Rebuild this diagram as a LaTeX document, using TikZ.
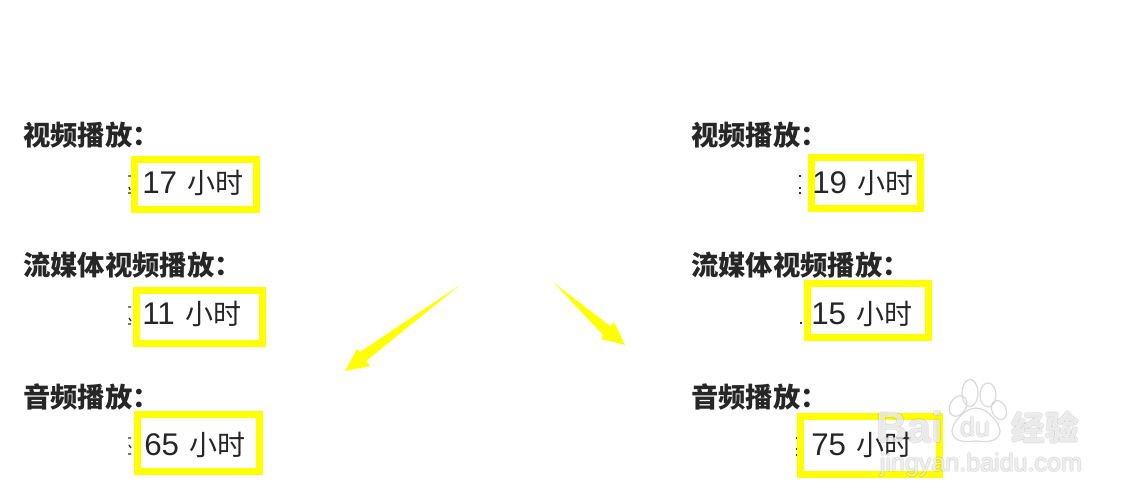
\documentclass[tikz,border=0pt]{standalone}
\usepackage{fontspec}
\setmainfont{Liberation Sans}
\newfontfamily\cjk{Noto Sans CJK SC}
\definecolor{markyellow}{RGB}{255,255,0}
\newcommand{\hourword}{\hspace{1.5pt}{\cjk\fontsize{21}{21}\selectfont 小时}}
% watermark word: grey rim under a white face
\newcommand{\stampword}[4]{
    \foreach \dx/\dy in {-1/0, 1/0, 0/-1, 0/1}
        \node[stamprim, font=#4] (#1rim) at ([shift={(\dx, \dy)}] #2) {#3};
    \node[stampface, font=#4] (#1) at (#2) {#3};
}
\tikzset{
    x=0.75pt, y=-0.75pt,
    headlabel/.style={anchor=west, inner sep=0pt, font=\cjk\fontsize{20.5}{20.5}\selectfont\bfseries, text=black!85},
    timelabel/.style={anchor=west, inner sep=0pt, font=\fontsize{23.5}{23.5}\selectfont, text=black!85},
    markbox/.style={draw=markyellow, line width=5pt},
    markarrow/.style={fill=markyellow},
    cutglyph/.style={draw=black!80, line width=1pt},
    stamprim/.style={inner sep=0pt, text=black, opacity=0.09},
    stampface/.style={inner sep=0pt, text=white, opacity=0.75},
    stamppaw/.style={draw=black!15, line width=0.9pt},
}
\begin{document}
\begin{tikzpicture}
    \useasboundingbox (0, 0) rectangle (1144, 502);
    % left column
    \node[headlabel] (headA) at (23, 135) {视频播放：};
    \node[headlabel] (headB) at (23, 265) {流媒体视频播放：};
    \node[headlabel] (headC) at (23, 397) {音频播放：};
    \draw[cutglyph]   (128, 176) -- (131, 176) (129, 187) -- (130, 190) (128, 193) -- (131, 193);
    \draw[cutglyph]   (128, 307) -- (131, 307) (129, 318) -- (131, 321) (128, 324) -- (131, 324);
    \draw[cutglyph]   (128, 438) -- (131, 438) (129, 445) -- (131, 448) (128, 454) -- (131, 454);
    \draw[markbox]    (134.5, 159.5) rectangle (256.5, 209.5);
    \draw[markbox]    (136.5, 290.5) rectangle (262.5, 343.5);
    \draw[markbox]    (137.5, 414.5) rectangle (259.5, 471.5);
    \node[timelabel] (timeA) at (142, 183) {17 \hourword};
    \node[timelabel] (timeB) at (142, 314) {11 \hourword};
    \node[timelabel] (timeC) at (144, 445) {65 \hourword};
    % right column
    \node[headlabel] (headD) at (691, 135) {视频播放：};
    \node[headlabel] (headE) at (691, 265) {流媒体视频播放：};
    \node[headlabel] (headF) at (691, 397) {音频播放：};
    \draw[cutglyph]   (799, 176) -- (801, 176) (799, 188) -- (801, 188) (799, 193) -- (801, 193);
    \draw[cutglyph]   (800, 323) -- (802, 323);
    \draw[cutglyph]   (796, 438) -- (798, 438) (796, 449) -- (798, 449) (796, 455) -- (798, 455);
    \draw[markbox]    (811.5, 157.5) rectangle (920.5, 208.5);
    \draw[markbox]    (807.5, 283.5) rectangle (928.5, 337.5);
    \draw[markbox]    (800.5, 416.5) rectangle (939.5, 474.5);
    \node[timelabel] (timeD) at (812, 183) {19 \hourword};
    \node[timelabel] (timeE) at (811, 314) {15 \hourword};
    \node[timelabel] (timeF) at (811, 445) {75 \hourword};
    % arrows
    \fill[markarrow] (460, 285) -- (360, 352) -- (357, 349) -- (345, 371) -- (370, 366) -- (366, 361) -- cycle;
    \fill[markarrow] (554, 283) -- (610, 326) -- (614, 322) -- (625, 345) -- (601, 339) -- (603, 335) -- cycle;
    % watermark
    \stampword{stampBai}{910, 427}{Bai}{\fontsize{32}{32}\selectfont\bfseries}
    \stampword{stampDu}{975, 427}{du}{\fontsize{20}{20}\selectfont}
    \stampword{stampJing}{1045, 427}{经验}{\cjk\fontsize{25}{25}\selectfont\bfseries}
    \stampword{stampSite}{981, 465}{jingyan.baidu.com}{\fontsize{18.8}{18.8}\selectfont}
    \draw[stamppaw] (970, 393) ellipse (8 and 13.5);
    \draw[stamppaw] (988, 395) ellipse (8 and 12);
    \draw[stamppaw, rotate around={-30:(958, 406)}] (958, 406) ellipse (8 and 11);
    \draw[stamppaw, rotate around={25:(999, 410)}] (999, 410) ellipse (7 and 10);
    \draw[stamppaw] (976, 408) .. controls (964, 408) and (952, 424) .. (952, 431)
        .. controls (952, 440) and (962, 443) .. (976, 441)
        .. controls (990, 443) and (1000, 440) .. (1000, 431)
        .. controls (1000, 424) and (988, 408) .. (976, 408) -- cycle;
\end{tikzpicture}
\end{document}
